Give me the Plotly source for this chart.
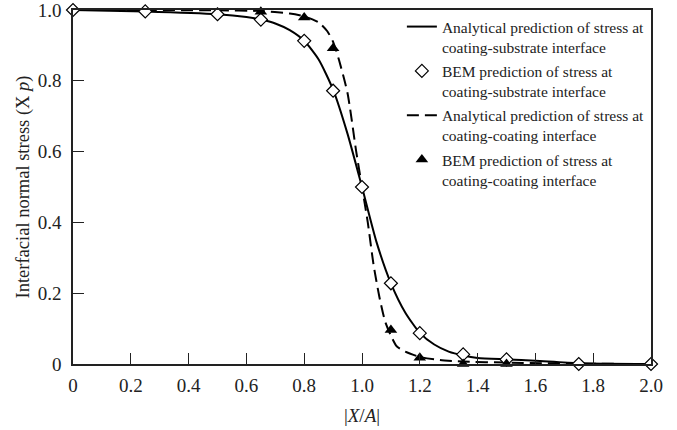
import plotly.graph_objects as go

# Analytical curve: coating-substrate interface
ana_sub_x = [0, 0.25, 0.5, 0.6, 0.65, 0.7, 0.75, 0.8, 0.85, 0.9, 0.95, 1.0, 1.05, 1.1, 1.15, 1.2, 1.25, 1.3, 1.35, 1.4, 1.5, 1.6, 1.75, 2.0]
ana_sub_y = [1.0, 0.996, 0.988, 0.98, 0.973, 0.962, 0.943, 0.913, 0.86, 0.775, 0.65, 0.5, 0.345, 0.228, 0.145, 0.088, 0.055, 0.035, 0.024, 0.017, 0.013, 0.009, 0.002, 0.0]

# BEM: coating-substrate interface
bem_sub_x = [0, 0.25, 0.5, 0.65, 0.8, 0.9, 1.0, 1.1, 1.2, 1.35, 1.5, 1.75, 2.0]
bem_sub_y = [1.0, 0.996, 0.988, 0.973, 0.913, 0.772, 0.5, 0.228, 0.087, 0.027, 0.013, 0.0, 0.0]

# Analytical curve: coating-coating interface
ana_coat_x = [0, 0.25, 0.5, 0.65, 0.75, 0.8, 0.85, 0.88, 0.9, 0.92, 0.95, 0.98, 1.0, 1.02, 1.04, 1.06, 1.08, 1.1, 1.12, 1.15, 1.2, 1.27, 1.35, 1.5, 1.75, 2.0]
ana_coat_y = [1.0, 1.0, 0.999, 0.997, 0.99, 0.982, 0.965, 0.94, 0.91, 0.86, 0.765, 0.6, 0.5, 0.4, 0.28, 0.19, 0.12, 0.08, 0.05, 0.035, 0.02, 0.011, 0.007, 0.004, 0.001, 0.0]

# BEM: coating-coating interface
bem_coat_x = [0.65, 0.8, 0.9, 1.1, 1.2, 1.35, 1.5]
bem_coat_y = [0.995, 0.979, 0.892, 0.096, 0.018, 0.0, 0.0]

x_ticks = [0, 0.2, 0.4, 0.6, 0.8, 1.0, 1.2, 1.4, 1.6, 1.8, 2.0]
x_tick_text = ["0", "0.2", "0.4", "0.6", "0.8", "1.0", "1.2", "1.4", "1.6", "1.8", "2.0"]
y_ticks = [0, 0.2, 0.4, 0.6, 0.8, 1.0]
y_tick_text = ["0", "0.2", "0.4", "0.6", "0.8", "1.0"]

FONT = "Liberation Serif, Times New Roman, serif"

fig = go.Figure()
fig.add_trace(go.Scatter(
    x=ana_sub_x, y=ana_sub_y, mode="lines", line=dict(color="black", width=2, shape="spline", smoothing=0.6),
    name="Analytical prediction of stress at<br>coating-substrate interface", legendgroup="a", legendrank=1,
))
fig.add_trace(go.Scatter(
    x=ana_coat_x, y=ana_coat_y, mode="lines",
    line=dict(color="black", width=2, dash="12px,6px", shape="spline", smoothing=0.6),
    name="Analytical prediction of stress at<br>coating-coating interface", legendgroup="c", legendrank=3,
))
fig.add_trace(go.Scatter(
    x=bem_sub_x, y=bem_sub_y, mode="markers",
    marker=dict(symbol="diamond", size=10, color="white", line=dict(color="black", width=1.2)),
    name="BEM prediction of stress at<br>coating-substrate interface", legendgroup="b", legendrank=2,
    cliponaxis=False,
))
fig.add_trace(go.Scatter(
    x=bem_coat_x, y=bem_coat_y, mode="markers",
    marker=dict(symbol="triangle-up", size=11, color="black", line=dict(color="black", width=0)),
    name="BEM prediction of stress at<br>coating-coating interface", legendgroup="d", legendrank=4,
    cliponaxis=False,
))

fig.update_layout(
    width=677, height=430,
    margin=dict(l=73, r=26, t=10, b=66, autoexpand=False),
    paper_bgcolor="white", plot_bgcolor="white",
    font=dict(family=FONT, size=19, color="#222"),
    showlegend=True,
    legend=dict(
        x=0.569, y=1.0, xanchor="left", yanchor="top",
        bgcolor="rgba(0,0,0,0)", borderwidth=0,
        font=dict(family=FONT, size=15.5, color="#222"),
        tracegroupgap=1, valign="top",
    ),
    xaxis=dict(
        range=[0, 2.0], tickvals=x_ticks, ticktext=x_tick_text,
        showgrid=False, zeroline=False, automargin=False,
        showline=True, linecolor="#222", linewidth=1.5, mirror=True,
        ticks="inside", ticklen=11, tickcolor="#222", tickwidth=1,
        ticklabelstandoff=3, ticklabeloverflow="allow",
        title=dict(text="|<i>X</i>/<i>A</i>|", font=dict(family=FONT, size=19), standoff=14),
    ),
    yaxis=dict(
        range=[0, 1.0], tickvals=y_ticks, ticktext=y_tick_text,
        showgrid=False, zeroline=False, automargin=False,
        showline=True, linecolor="#222", linewidth=1.5, mirror=True,
        ticks="inside", ticklen=11, tickcolor="#222", tickwidth=1,
        ticklabelstandoff=6, ticklabeloverflow="allow",
        title=dict(text="Interfacial normal stress (X <i>p</i>)", font=dict(family=FONT, size=18.5), standoff=3),
    ),
)

fig.write_html(
    "out.html",
    config={"displayModeBar": False},
    post_script="document.body.style.margin='0';document.body.style.overflow='hidden';",
)
